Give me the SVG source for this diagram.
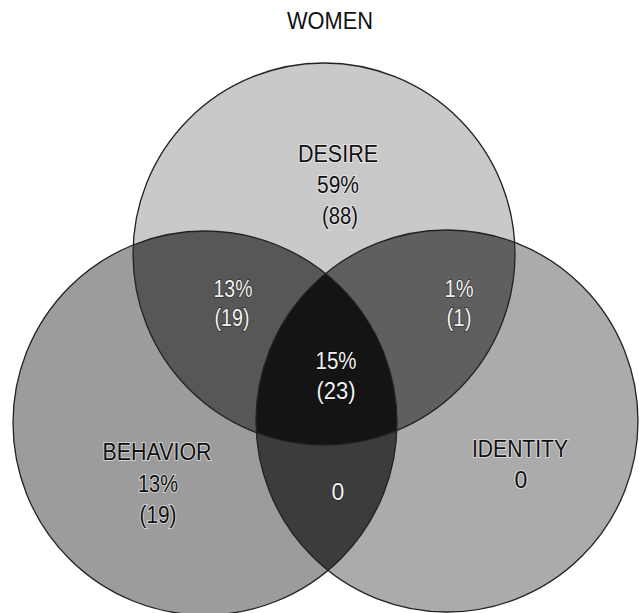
<svg xmlns="http://www.w3.org/2000/svg" width="639" height="613" viewBox="0 0 639 613">
<style>
text{font-family:"Liberation Sans",Arial,sans-serif;font-size:23px;text-anchor:middle}
.dk{fill:#111;stroke:#fff;stroke-width:2;paint-order:stroke;stroke-opacity:0.55}
.lt{fill:#f2f2f2;stroke:#000;stroke-width:1.5;paint-order:stroke;stroke-opacity:0.5}
.edge{fill:none;stroke:#222;stroke-width:1.3}
</style>
<defs>
<circle id="cD" cx="324" cy="254" r="191"/>
<circle id="cB" cx="205" cy="423" r="192"/>
<circle id="cI" cx="447" cy="421" r="191"/>
<clipPath id="clipD"><use href="#cD"/></clipPath>
<clipPath id="clipB"><use href="#cB"/></clipPath>
</defs>
<rect width="639" height="613" fill="#fff"/>
<text x="330" y="29" class="dk" textLength="86" lengthAdjust="spacingAndGlyphs">WOMEN</text>
<g id="behavior"><use href="#cB" fill="#9c9c9c"/></g>
<g id="identity"><use href="#cI" fill="#ababab"/></g>
<g id="desire"><use href="#cD" fill="#c9c9c9"/></g>
<g id="desire-behavior" clip-path="url(#clipD)"><use href="#cB" fill="#575757"/></g>
<g id="desire-identity" clip-path="url(#clipD)"><use href="#cI" fill="#5f5f5f"/></g>
<g id="behavior-identity" clip-path="url(#clipB)"><use href="#cI" fill="#3c3c3c"/></g>
<g id="all-three" clip-path="url(#clipD)"><g clip-path="url(#clipB)"><use href="#cI" fill="#141414"/></g></g>
<g id="outlines">
<use href="#cD" class="edge"/>
<use href="#cB" class="edge"/>
<use href="#cI" class="edge"/>
</g>
<g id="desire-labels" class="dk">
<text x="338" y="162" textLength="80" lengthAdjust="spacingAndGlyphs">DESIRE</text>
<text x="338" y="193" textLength="42" lengthAdjust="spacingAndGlyphs">59%</text>
<text x="340" y="224" textLength="36" lengthAdjust="spacingAndGlyphs">(88)</text>
</g>
<g id="behavior-labels" class="dk">
<text x="157" y="460" textLength="109" lengthAdjust="spacingAndGlyphs">BEHAVIOR</text>
<text x="158" y="492" textLength="40" lengthAdjust="spacingAndGlyphs">13%</text>
<text x="158" y="523" textLength="37" lengthAdjust="spacingAndGlyphs">(19)</text>
</g>
<g id="identity-labels" class="dk">
<text x="520" y="457" textLength="96" lengthAdjust="spacingAndGlyphs">IDENTITY</text>
<text x="521" y="488">0</text>
</g>
<g id="desire-behavior-labels" class="lt">
<text x="233" y="297" textLength="39" lengthAdjust="spacingAndGlyphs">13%</text>
<text x="232" y="326" textLength="35" lengthAdjust="spacingAndGlyphs">(19)</text>
</g>
<g id="desire-identity-labels" class="lt">
<text x="459" y="297" textLength="29" lengthAdjust="spacingAndGlyphs">1%</text>
<text x="459" y="326" textLength="25" lengthAdjust="spacingAndGlyphs">(1)</text>
</g>
<g id="all-three-labels" class="lt">
<text x="336" y="369" textLength="41" lengthAdjust="spacingAndGlyphs">15%</text>
<text x="336" y="399" textLength="39" lengthAdjust="spacingAndGlyphs">(23)</text>
</g>
<g id="behavior-identity-labels" class="lt">
<text x="338" y="500">0</text>
</g>
</svg>
